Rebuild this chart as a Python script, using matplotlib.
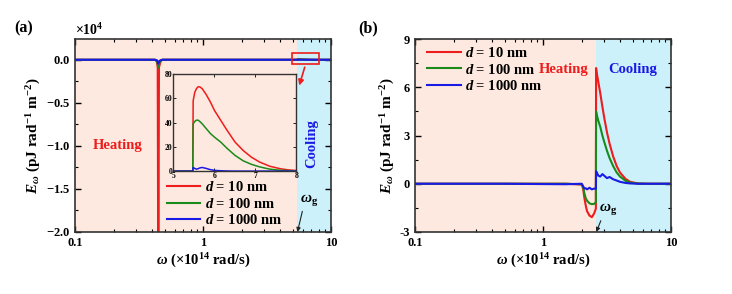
import numpy as np
import matplotlib
matplotlib.use("Agg")
import matplotlib.pyplot as plt
from matplotlib.patches import Rectangle
from matplotlib.ticker import FixedLocator, FuncFormatter, LogLocator, MultipleLocator, ScalarFormatter

plt.rcParams['font.family'] = 'Liberation Serif'
plt.rcParams['font.weight'] = 'bold'
plt.rcParams['axes.labelweight'] = 'bold'
plt.rcParams['mathtext.fontset'] = 'custom'
plt.rcParams['mathtext.rm'] = 'Liberation Serif:bold'
plt.rcParams['mathtext.it'] = 'Liberation Serif:bold:italic'
plt.rcParams['mathtext.bf'] = 'Liberation Serif:bold'
plt.rcParams['axes.unicode_minus'] = False

# ---- data: panel (a), raw pJ rad^-1 m^-2 ----
omega_a = [0.10, 0.30, 0.42, 0.435, 0.442, 0.447, 0.452, 0.465, 0.48, 0.60, 1.00, 3.00,
           5.00, 5.47, 5.48, 5.52, 5.56, 5.60, 5.64, 5.70, 5.80, 5.90, 6.00, 6.15, 6.30, 6.50,
           6.70, 6.90, 7.10, 7.35, 7.60, 7.80, 8.00, 9.00, 10.00]
E_a_10 = [0, 0, 0, -200, -900, -30000, -900, -200, 0, 0, 0, 0,
          0, 0, 58, 65, 68, 69.5, 69.5, 68, 63, 57, 50, 42, 34, 24,
          17, 11.5, 7.5, 4, 2, 1, 0.5, 0, 0]
E_a_100 = [0, 0, 0, -100, -450, -900, -450, -100, 0, 0, 0, 0,
           0, 0, 39, 41, 42, 42, 41, 39, 35, 31, 28, 24, 19, 13,
           8.5, 5.6, 3.5, 1.6, 0.7, 0.4, 0.2, 0, 0]
E_a_1000 = [0, 0, 0, -50, -200, -450, -200, -50, 0, 0, 0, 0,
            0, 0, 3, 2.2, 1.6, 2.0, 2.6, 3.0, 2.2, 1.2, 0.6, 0.3, 0.1, 0,
            0, 0, 0, 0, 0, 0, 0, 0, 0]

# ---- data: panel (b), pJ rad^-1 m^-2 ----
omega_b = [0.10, 0.50, 1.00, 1.50, 2.00, 2.05, 2.10, 2.15, 2.20, 2.30, 2.40, 2.50, 2.58, 2.59,
           2.62, 2.70, 2.79, 2.90, 3.00, 3.15, 3.30, 3.52, 3.75, 3.98, 4.40, 4.78, 5.50, 6.50,
           8.00, 10.0]
E_b_10 = [0, 0, 0, 0, -0.05, -0.3, -0.9, -1.35, -1.7, -1.98, -2.08, -1.85, -1.55, 7.2,
          6.9, 6.3, 5.65, 4.8, 4.1, 3.2, 2.5, 1.7, 1.1, 0.7, 0.3, 0.12, 0.02, 0,
          0, 0]
E_b_100 = [0, 0, 0, 0, -0.03, -0.2, -0.6, -0.9, -1.05, -1.22, -1.27, -1.25, -1.15, 4.5,
           4.3, 3.9, 3.55, 3.0, 2.6, 2.05, 1.6, 1.1, 0.7, 0.45, 0.18, 0.07, 0.01, 0,
           0, 0]
E_b_1000 = [0, 0, -0.02, -0.03, 0, -0.15, -0.3, -0.28, -0.35, -0.25, -0.35, -0.3, -0.32, 0.78,
            0.7, 0.5, 0.45, 0.6, 0.5, 0.35, 0.42, 0.28, 0.2, 0.12, 0.05, 0.02, 0, 0,
            0, 0]

labels = [r'$d$ = 10 nm', r'$d$ = 100 nm', r'$d$ = 1000 nm']
colors = ['#ee1c1c', '#1a8a1a', '#1a1ae6']
wg_a = 5.4
wg_b = 2.585

heat_c = '#fde9df'
cool_c = '#cdf1fa'


def log_axis(ax):
    ax.set_xscale('log')
    ax.set_xlim(0.1, 10)
    ax.xaxis.set_major_locator(FixedLocator([0.1, 1, 10]))
    ax.xaxis.set_major_formatter(FuncFormatter(lambda v, p: '%g' % v))
    ax.xaxis.set_minor_locator(LogLocator(base=10, subs=np.arange(2, 10)))
    ax.tick_params(which='both', direction='in', top=True, right=True, labelsize=9)
    ax.tick_params(which='major', length=4, width=1)
    ax.tick_params(which='minor', length=2, width=0.8)
    for s in ax.spines.values():
        s.set_linewidth(1.2)
        s.set_color('#333333')
    ax.set_xlabel(r'$\omega$ (×10$^{14}$ rad/s)', fontsize=10.5, labelpad=2)
    ax.set_ylabel(r'$E_{\omega}$ (pJ rad$^{-1}$ m$^{-2}$)', fontsize=11, labelpad=2)


fig = plt.figure(figsize=(7.32, 2.94), dpi=100)

# ---------------- panel (a) ----------------
ax1 = fig.add_axes([0.1025, 0.211, 0.35, 0.656])
ax1.axvspan(0.1, wg_a, color=heat_c, lw=0, zorder=0)
ax1.axvspan(wg_a, 10, color=cool_c, lw=0, zorder=0)
for E, c, lab in zip([E_a_10, E_a_100, E_a_1000], colors, labels):
    ax1.plot(omega_a, E, color=c, lw=1.5, label=lab)
log_axis(ax1)
ax1.set_ylim(-20000, 2400)
ax1.yaxis.set_major_locator(MultipleLocator(5000))
ax1.yaxis.set_minor_locator(MultipleLocator(2500))
fmt = ScalarFormatter(useMathText=True)
fmt.set_powerlimits((0, 0))
ax1.yaxis.set_major_formatter(fmt)
ax1.yaxis.get_offset_text().set_fontsize(10)
ax1.yaxis.get_offset_text().set_fontweight('bold')

ax1.add_patch(Rectangle((4.95, -500), 3.1, 1300, fill=False, ec='#ee1c1c', lw=1.2, zorder=5))
ax1.annotate('', xy=(5.55, -3300), xytext=(6.3, -550),
             arrowprops=dict(arrowstyle='-|>', color='#ee1c1c', lw=1.2, mutation_scale=8))
ax1.text(0.215, -10000, 'Heating', color='#ee1c1c', fontsize=10.5, ha='center', va='center')
ax1.text(7.1, -9700, 'Cooling', color='#1a1ae6', fontsize=10.5, ha='center', va='center',
         rotation=90)
ax1.text(6.75, -16300, r'$\omega_{\rm g}$', fontsize=11, ha='center', va='center')
ax1.annotate('', xy=(5.45, -20000), xytext=(5.95, -17600),
             arrowprops=dict(arrowstyle='-|>', color='#222222', lw=0.8, mutation_scale=6,
                             shrinkA=0, shrinkB=0))
ax1.legend(loc='upper left', bbox_to_anchor=(0.33, 0.305), frameon=False, fontsize=10.5,
           handlelength=2.3, labelspacing=0.15, handletextpad=0.3, borderpad=0)
fig.text(0.02, 0.905, '(a)', fontsize=11.5, ha='left', va='center')

# inset
axi = fig.add_axes([0.237, 0.418, 0.168, 0.33])
axi.set_facecolor(heat_c)
for E, c in zip([E_a_10, E_a_100, E_a_1000], colors):
    axi.plot(omega_a, E, color=c, lw=1.1)
axi.set_xlim(5, 8)
axi.set_ylim(0, 80)
axi.xaxis.set_major_locator(MultipleLocator(1))
axi.yaxis.set_major_locator(MultipleLocator(20))
axi.tick_params(direction='in', top=True, right=True, labelsize=5.5, length=2, width=0.6, pad=1)
for s in axi.spines.values():
    s.set_linewidth(1.0)
    s.set_color('#333333')

# ---------------- panel (b) ----------------
ax2 = fig.add_axes([0.567, 0.211, 0.35, 0.656])
ax2.axvspan(0.1, wg_b, color=heat_c, lw=0, zorder=0)
ax2.axvspan(wg_b, 10, color=cool_c, lw=0, zorder=0)
for E, c, lab in zip([E_b_10, E_b_100, E_b_1000], colors, labels):
    ax2.plot(omega_b, E, color=c, lw=1.5, label=lab)
log_axis(ax2)
ax2.set_ylim(-3, 9)
ax2.yaxis.set_major_locator(MultipleLocator(3))
ax2.yaxis.set_minor_locator(MultipleLocator(1.5))
ax2.text(1.45, 7.1, 'Heating', color='#ee1c1c', fontsize=10.5, ha='center', va='center')
ax2.text(5.0, 7.1, 'Cooling', color='#1a1ae6', fontsize=10.5, ha='center', va='center')
ax2.text(3.2, -1.6, r'$\omega_{\rm g}$', fontsize=11, ha='center', va='center')
ax2.annotate('', xy=(2.6, -3), xytext=(2.82, -2.3),
             arrowprops=dict(arrowstyle='-|>', color='#222222', lw=0.8, mutation_scale=6,
                             shrinkA=0, shrinkB=0))
ax2.legend(loc='upper left', bbox_to_anchor=(0.02, 1.0), frameon=False, fontsize=10.5,
           handlelength=2.3, labelspacing=0.15, handletextpad=0.3, borderpad=0)
fig.text(0.49, 0.905, '(b)', fontsize=11.5, ha='left', va='center')

fig.savefig('out.png', dpi=100)
